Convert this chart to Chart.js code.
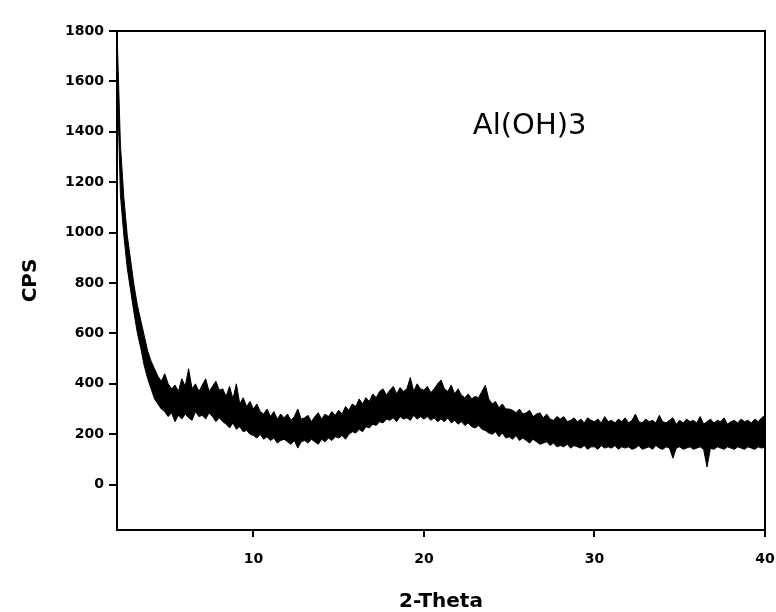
<!DOCTYPE html>
<html>
<head>
<meta charset="utf-8">
<script src="https://cdn.jsdelivr.net/npm/chart.js@4"></script>
<style>
  html, body { margin: 0; padding: 0; background: #fff; }
  #wrap { width: 776px; height: 612px; }
</style>
</head>
<body>
<div id="wrap"><canvas id="xrdChart"></canvas></div>
<script>
// 2-Theta scan, one reading every 0.2 degree from 2 to 40
const thetaStart = 2;
const thetaStep = 0.2;

// upper edge of the noisy trace (CPS)
const cpsHigh = [
  1800, 1350, 1140, 990, 890,
  790, 710, 650, 590, 530,
  490, 460, 430, 410, 440,
  400, 380, 395, 370, 420,
  390, 460, 380, 400, 370,
  395, 420, 370, 390, 410,
  375, 380, 350, 390, 340,
  400, 320, 345, 310, 330,
  300, 320, 290, 280, 300,
  270, 290, 260, 280, 265,
  280, 255, 270, 300, 260,
  265, 275, 250, 270, 285,
  260, 280, 270, 290, 275,
  295, 280, 310, 295, 320,
  310, 340, 320, 345, 330,
  360, 345, 370, 380, 355,
  375, 390, 360, 385, 370,
  380, 425, 370, 400, 380,
  375, 390, 365, 380, 400,
  415, 380, 370, 395, 360,
  380, 355, 345, 360, 340,
  350, 345, 370, 395, 340,
  320, 330, 305, 320, 300,
  300, 295, 285, 300, 280,
  285, 295, 270, 280, 285,
  265, 280, 260, 255, 270,
  260, 270, 250, 255, 265,
  250, 260, 245, 265, 255,
  250, 260, 245, 270, 250,
  255, 245, 260, 250, 265,
  245, 255, 280, 250, 245,
  260, 250, 255, 245, 275,
  250, 245, 255, 265, 240,
  255, 245, 260, 250, 255,
  245, 270, 240, 250, 260,
  245, 255, 250, 265, 240,
  250, 255, 245, 260, 250,
  255, 245, 260, 250, 265,
  275
];

// lower edge of the noisy trace (CPS)
const cpsLow = [
  1650, 1150, 990, 860, 770,
  680, 600, 540, 470, 420,
  380, 340, 320, 300, 290,
  270, 285, 250, 275, 260,
  280, 265, 255, 290, 270,
  275, 260, 285, 270, 250,
  265, 250, 240, 225, 245,
  220, 230, 210, 215, 200,
  195, 185, 200, 180, 190,
  175, 185, 165, 175, 180,
  170, 160, 175, 145, 170,
  175, 165, 180, 170, 160,
  180, 170, 185, 175, 190,
  185, 195, 180, 200, 210,
  205, 220, 210, 230, 225,
  240, 235, 250, 245, 260,
  255, 265, 250, 270, 260,
  265, 255, 275, 260, 270,
  260, 270, 255, 265, 250,
  260, 250, 265, 245, 255,
  240, 250, 235, 245, 230,
  225, 235, 220, 215, 205,
  200, 210, 190, 205, 185,
  190, 180, 195, 175, 185,
  175, 165, 180, 170, 160,
  165, 170, 155, 165, 150,
  155, 150, 160, 145, 155,
  150, 145, 155, 140, 150,
  150, 140, 155, 145, 150,
  145, 155, 140, 150, 145,
  150, 140, 145, 155, 140,
  145, 150, 140, 155, 145,
  140, 150, 145, 105, 145,
  150, 140, 145, 150, 140,
  145, 150, 140, 70, 145,
  140, 150, 145, 140, 150,
  145, 140, 150, 145, 140,
  150, 145, 140, 150, 145,
  150
];

const xTicks = [10, 20, 30, 40];
const yTicks = [0, 200, 400, 600, 800, 1000, 1200, 1400, 1600, 1800];
const sampleName = 'Al(OH)3';

const theta = cpsHigh.map((v, i) => +(thetaStart + i * thetaStep).toFixed(1));
const toPoints = arr => arr.map((v, i) => ({ x: theta[i], y: v }));

// frame around the plot plus the sample label
const framePlugin = {
  id: 'frame',
  afterDatasetsDraw(chart) {
    const { ctx, chartArea: a, scales } = chart;
    ctx.save();
    ctx.strokeStyle = '#000';
    ctx.lineWidth = 2;
    ctx.strokeRect(a.left, a.top, a.right - a.left, a.bottom - a.top);
    ctx.fillStyle = '#000';
    ctx.font = '29px "DejaVu Sans"';
    ctx.textAlign = 'center';
    ctx.textBaseline = 'middle';
    ctx.fillText(sampleName, scales.x.getPixelForValue(26.2), scales.y.getPixelForValue(1420));
    ctx.restore();
  }
};

const tickFont = { family: 'DejaVu Sans', size: 14, weight: 'bold' };
const titleFont = { family: 'DejaVu Sans', size: 20, weight: 'bold', lineHeight: 1 };

new Chart(document.getElementById('xrdChart'), {
  type: 'line',
  data: {
    datasets: [
      {
        data: toPoints(cpsHigh),
        borderColor: '#000',
        borderWidth: 1,
        pointRadius: 0,
        fill: false
      },
      {
        data: toPoints(cpsLow),
        borderColor: '#000',
        backgroundColor: '#000',
        borderWidth: 1,
        pointRadius: 0,
        fill: '-1'
      }
    ]
  },
  options: {
    responsive: true,
    maintainAspectRatio: false,
    animation: false,
    layout: { padding: { left: 0, top: 31, right: 11, bottom: 0 } },
    plugins: { legend: { display: false }, tooltip: { enabled: false } },
    elements: { line: { tension: 0 } },
    scales: {
      x: {
        type: 'linear',
        min: 2,
        max: 40,
        afterBuildTicks: s => { s.ticks = xTicks.map(v => ({ value: v })); },
        afterFit: s => { s.height = 82; s.paddingLeft = 0; s.paddingRight = 0; },
        ticks: { color: '#000', font: tickFont, padding: 14, maxRotation: 0, callback: v => String(v) },
        grid: { drawOnChartArea: false, color: '#000', tickLength: 7, lineWidth: 2 },
        border: { display: false },
        title: { display: true, text: '2-Theta', color: '#000', font: titleFont, padding: { top: 0, bottom: 0 } }
      },
      y: {
        min: -180,
        max: 1800,
        afterBuildTicks: s => { s.ticks = yTicks.map(v => ({ value: v })); },
        afterFit: s => { s.width = 117; s.paddingTop = 0; s.paddingBottom = 0; },
        ticks: { color: '#000', font: tickFont, padding: 5, callback: v => String(v) },
        grid: { drawOnChartArea: false, color: '#000', tickLength: 8, lineWidth: 2 },
        border: { display: false },
        title: { display: true, text: 'CPS', color: '#000', font: titleFont, padding: { top: 21, bottom: 0 } }
      }
    }
  },
  plugins: [framePlugin]
});
</script>
</body>
</html>
